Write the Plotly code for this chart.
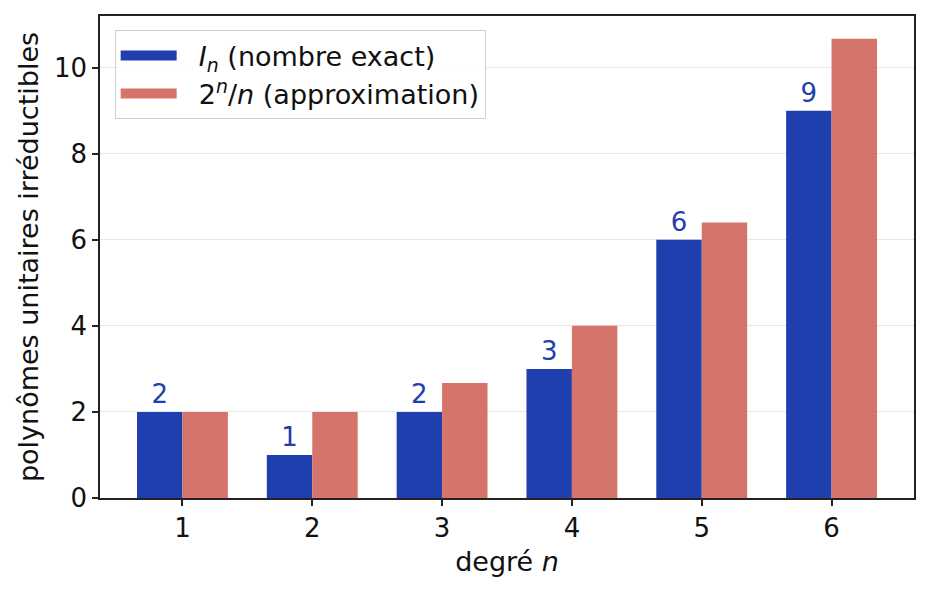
import plotly.graph_objects as go

# degré n, nombre exact I_n, et approximation 2^n/n
degres = [1, 2, 3, 4, 5, 6]
exact = [2, 1, 2, 3, 6, 9]
approx = [2, 2, 2.67, 4, 6.4, 10.67]

noms = ['<i>I<sub>n</sub></i> (nombre exact)', '2<sup><i>n</i></sup>/<i>n</i> (approximation)']
bleu = '#1f3fae'
rouge = '#d4746b'
police = 'DejaVu Sans'
taille = 26

fig = go.Figure()
fig.add_trace(go.Bar(x=degres, y=exact, name=noms[0], showlegend=False,
    marker=dict(color=bleu, line=dict(width=0)),
    text=[str(v) for v in exact], textposition='outside',
    textfont=dict(color=bleu, size=taille, family=police), cliponaxis=False))
fig.add_trace(go.Bar(x=degres, y=approx, name=noms[1], showlegend=False,
    marker=dict(color=rouge, line=dict(width=0))))

# entrées de légende en rectangles larges, comme matplotlib
for nom, coul in zip(noms, [bleu, rouge]):
    fig.add_trace(go.Scatter(x=[None], y=[None], mode='lines', name='&nbsp;&nbsp;' + nom,
        line=dict(color=coul, width=20)))

axe = dict(showline=True, mirror=True, linecolor='#222', linewidth=1.5,
    ticks='outside', ticklen=6, tickwidth=1.5, tickcolor='#222',
    tickfont=dict(size=taille, color='#111'), zeroline=False)

fig.update_layout(
    width=929, height=593,
    margin=dict(l=92, r=23, t=6, b=103),
    paper_bgcolor='white', plot_bgcolor='white',
    font=dict(family=police, size=taille, color='#111'),
    barmode='group', bargap=0.3, bargroupgap=0,
    xaxis=dict(axe, range=[0.365, 6.635], tickvals=degres, showgrid=False,
        title=dict(text='degré <i>n</i>', font=dict(size=27), standoff=10)),
    yaxis=dict(axe, range=[0, 11.2], tickvals=[0, 2, 4, 6, 8, 10],
        showgrid=True, gridcolor='#e6e6e6', gridwidth=1,
        title=dict(text='polynômes unitaires irréductibles', font=dict(size=27), standoff=8)),
    legend=dict(x=0.018, y=0.97, xanchor='left', yanchor='top',
        bgcolor='rgba(255,255,255,0.9)', bordercolor='#d0d0d0', borderwidth=1,
        font=dict(size=27), itemwidth=56),
)

fig.write_html('out.html')
